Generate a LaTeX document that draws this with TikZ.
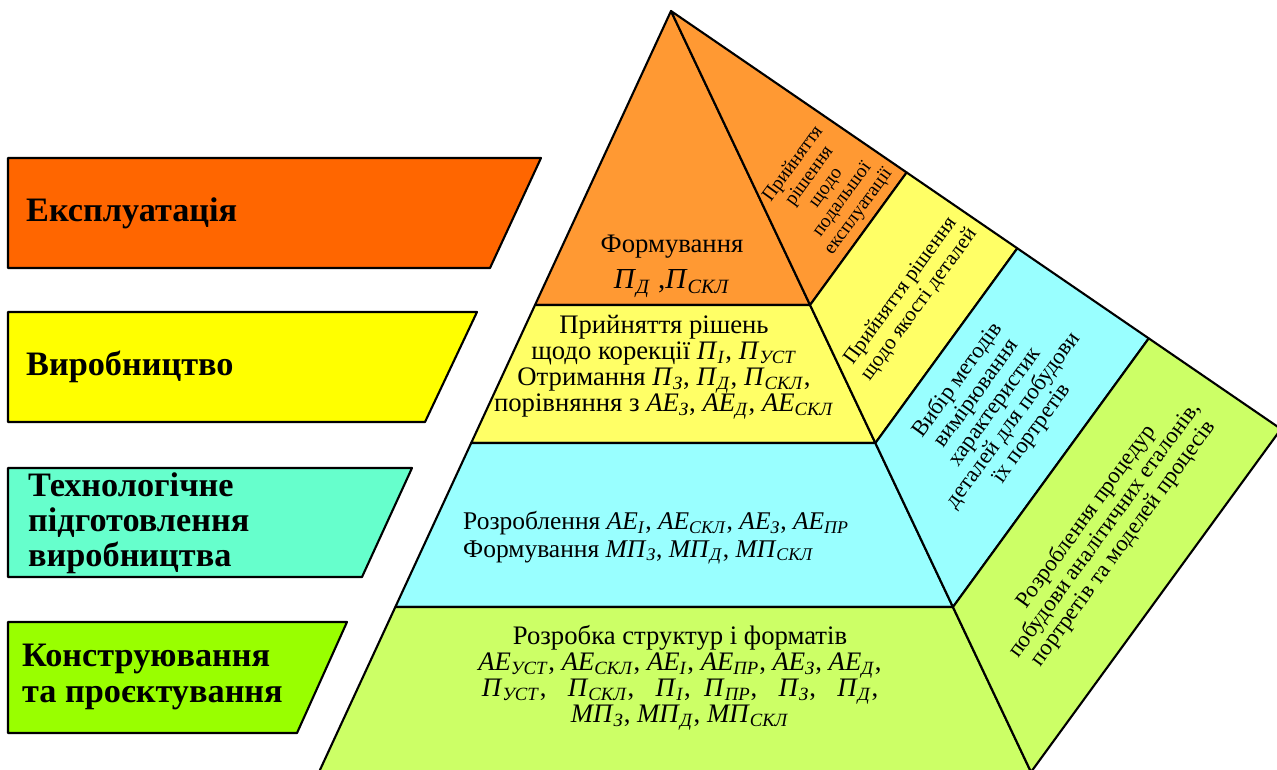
\documentclass[tikz,border=0pt]{standalone}
\usepackage{fontspec}
\setmainfont{LiberationSerif-Regular.ttf}[BoldFont=LiberationSerif-Bold.ttf, ItalicFont=LiberationSerif-Italic.ttf, BoldItalicFont=LiberationSerif-BoldItalic.ttf]
\usetikzlibrary{calc}
\definecolor{labOrange}{HTML}{FF6600}
\definecolor{labYellow}{HTML}{FFFF00}
\definecolor{labTeal}{HTML}{66FFCC}
\definecolor{labGreen}{HTML}{99FF00}
\definecolor{pyrOrange}{HTML}{FF9933}
\definecolor{pyrYellow}{HTML}{FFFF66}
\definecolor{pyrCyan}{HTML}{99FFFF}
\definecolor{pyrGreen}{HTML}{CCFF66}
\newcommand{\psub}[1]{\textit{П}\textsubscript{\textit{#1}}}
\newcommand{\aesub}[1]{\textit{АЕ}\textsubscript{\textit{#1}}}
\newcommand{\mpsub}[1]{\textit{МП}\textsubscript{\textit{#1}}}

\begin{document}
\begin{tikzpicture}[x=0.02cm, y=-0.02cm,
  band/.style={draw=black, line width=1.2pt, line join=round},
  lab/.style={anchor=west, align=left, font=\fontsize{19.5}{20}\selectfont\bfseries},
  front/.style={align=center, font=\fontsize{15.2}{14.8}\selectfont},
  side/.style={align=center, rotate=54, font=\fontsize{13}{13}\selectfont}]
  \useasboundingbox (0,0) rectangle (1277,769);
  \clip (0,0) rectangle (1277,769);
  % stage labels
  \filldraw[band, fill=labOrange] (8,158) -- (541,158) -- (490,268) -- (8,268) -- cycle;
  \filldraw[band, fill=labYellow] (8,312) -- (477,312) -- (425,422) -- (8,422) -- cycle;
  \filldraw[band, fill=labTeal] (8,468) -- (412,468) -- (362,577) -- (8,577) -- cycle;
  \filldraw[band, fill=labGreen] (8,622) -- (347,622) -- (297,733) -- (8,733) -- cycle;
  \node[lab] (expl) at (20,213) {Експлуатація};
  \node[lab] (vyrob) at (20,367) {Виробництво};
  \node[lab] (tech) at (22,523) {Технологічне\\підготовлення\\виробництва};
  \node[lab] (konstr) at (16,677) {Конструювання\\та проєктування};
  % pyramid corners
  \coordinate (top) at (671,11);
  \coordinate (bl) at (319,772);
  \coordinate (br) at (1031,772);
  \coordinate (tip) at (1281,429);
  \foreach \f [count=\i] in {0.3863,0.5677,0.7832} {
    \coordinate (l\i) at ($(top)!\f!(bl)$);
    \coordinate (f\i) at ($(top)!\f!(br)$);
    \coordinate (o\i) at ($(top)!\f!(tip)$);
  }
  % front face
  \filldraw[band, fill=pyrOrange] (top) -- (f1) -- (l1) -- cycle;
  \filldraw[band, fill=pyrYellow] (l1) -- (f1) -- (f2) -- (l2) -- cycle;
  \filldraw[band, fill=pyrCyan] (l2) -- (f2) -- (f3) -- (l3) -- cycle;
  \filldraw[band, fill=pyrGreen] (l3) -- (f3) -- (br) -- (bl) -- cycle;
  % side face
  \filldraw[band, fill=pyrOrange] (top) -- (o1) -- (f1) -- cycle;
  \filldraw[band, fill=pyrYellow] (f1) -- (o1) -- (o2) -- (f2) -- cycle;
  \filldraw[band, fill=pyrCyan] (f2) -- (o2) -- (o3) -- (f3) -- cycle;
  \filldraw[band, fill=pyrGreen] (f3) -- (o3) -- (tip) -- (br) -- cycle;
  % front texts
  \node[front] (form) at (672,266) {Формування\\[6pt]{\fontsize{16.5}{16}\selectfont\psub{Д} ,\psub{СКЛ}}};
  \node[front] (prod) at (664,367) {Прийняття рішень\\щодо корекції \psub{І}, \psub{УСТ}\\Отримання \psub{З}, \psub{Д}, \psub{СКЛ},\\порівняння з \aesub{З}, \aesub{Д}, \aesub{СКЛ}};
  \node[front, align=left, font=\fontsize{14.5}{15.5}\selectfont] (devel) at (656,538) {Розроблення \aesub{І}, \aesub{СКЛ}, \aesub{З}, \aesub{ПР}\\Формування \mpsub{З}, \mpsub{Д}, \mpsub{СКЛ}};
  \node[front] (struct) at (680,678) {Розробка структур і форматів\\\aesub{УСТ}, \aesub{СКЛ}, \aesub{І}, \aesub{ПР}, \aesub{З}, \aesub{Д},\\\psub{УСТ},\hspace{0.8em}\psub{СКЛ},\hspace{0.8em}\psub{І},\hspace{0.5em}\psub{ПР},\hspace{0.8em}\psub{З},\hspace{0.8em}\psub{Д},\\\mpsub{З}, \mpsub{Д}, \mpsub{СКЛ}};
  % side texts
  \node[side, font=\fontsize{11}{11.5}\selectfont] (decide) at (826,188) {Прийняття\\рішення\\щодо\\подальшої\\експлуатації};
  \node[side, font=\fontsize{12}{13}\selectfont] (quality) at (910,298) {Прийняття рішення\\щодо якості деталей};
  \node[side] (method) at (995,407) {Вибір методів\\вимірювання\\характеристик\\деталей для побудови\\їх портретів};
  \node[side] (proc) at (1105,530) {Розроблення процедур\\побудови аналітичних еталонів,\\портретів та моделей процесів};
\end{tikzpicture}
\end{document}
